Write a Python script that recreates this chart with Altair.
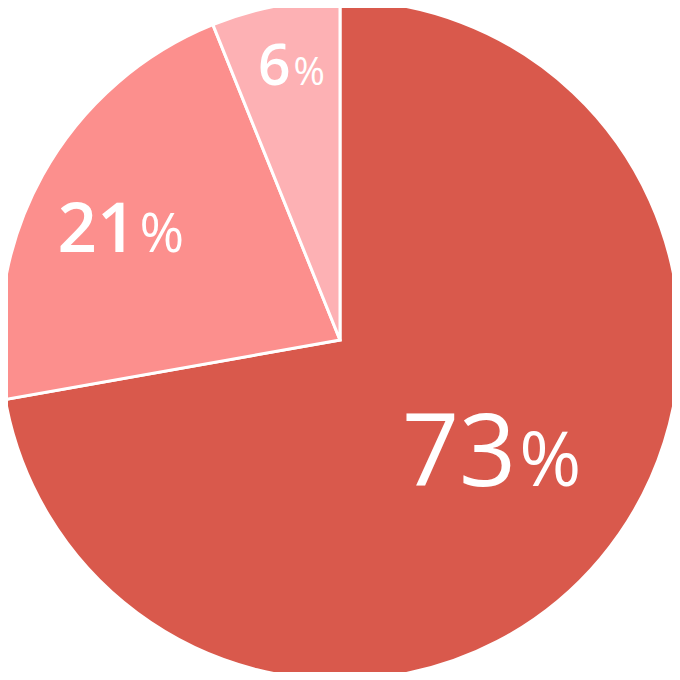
import altair as alt
import pandas as pd

labels = ["73", "21", "6"]
values = [72.2, 21.7, 6.1]
colors = ["#D9594C", "#FC8F8D", "#FDB1B4"]

df = pd.DataFrame({"label": labels, "value": values, "idx": [0, 1, 2]})
total = sum(values)
cum = df["value"].cumsum() - df["value"] / 2
df["mid"] = cum / total * 100

CX, CY = 332, 332

base = alt.Chart(df)

pie = base.mark_arc(outerRadius=340, stroke="white", strokeWidth=3).encode(
    theta=alt.Theta("value:Q", stack=True),
    order=alt.Order("idx:Q"),
    color=alt.Color("label:N", scale=alt.Scale(domain=labels, range=colors), legend=None),
    x=alt.value(CX),
    y=alt.value(CY),
)

theta_mid = alt.Theta("mid:Q", stack=None, scale=alt.Scale(domain=[0, 100], range=[0, 6.283185307179586]))

# label styles: (label, radius, dx, dy, number size, percent size, number weight)
styles = [
    ("73", 230, 0, -2, 100, 75, 400),
    ("21", 219, -12, 18, 69, 54, 600),
    ("6", 260, 0, 0, 57, 38, 600),
]

layers = [pie]
for lab, r, dx, dy, fs, ps, fw in styles:
    sub = base.transform_filter(alt.datum.label == lab)
    num = sub.mark_text(
        radius=r, dx=dx, dy=dy, align="right", baseline="alphabetic",
        font="Open Sans", fontSize=fs, fontWeight=fw, color="white",
    ).encode(theta=theta_mid, text="label:N", x=alt.value(CX), y=alt.value(CY))
    pct = sub.mark_text(
        radius=r, dx=dx + 3, dy=dy, align="left", baseline="alphabetic",
        font="Open Sans", fontSize=ps, fontWeight=400, color="white",
    ).encode(theta=theta_mid, text=alt.value("%"), x=alt.value(CX), y=alt.value(CY))
    layers += [num, pct]

chart = alt.layer(*layers).properties(
    width=664, height=664, padding=0, autosize=alt.AutoSizeParams(type="none")
).configure_view(stroke=None)

chart.save("out.html", embed_options={"renderer": "svg", "actions": False})
